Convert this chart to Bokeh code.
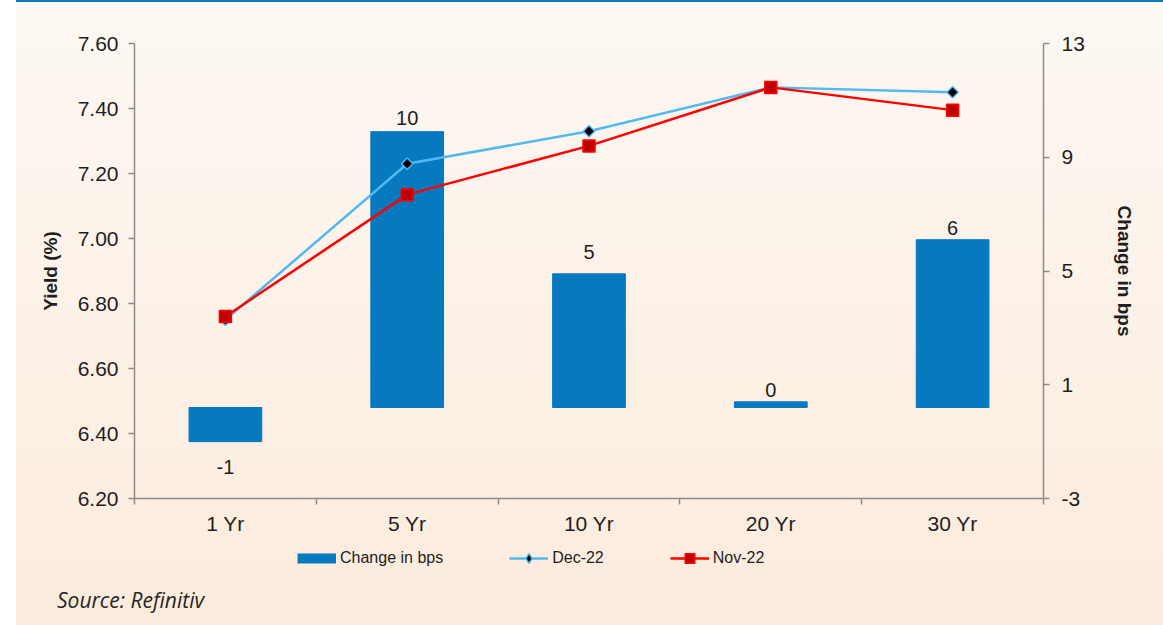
import math
from bokeh.plotting import figure
from bokeh.layouts import column
from bokeh.models import (Range1d, LinearAxis, FixedTicker, PrintfTickFormatter,
                          CustomJSTickFormatter, Legend, LegendItem, Div, ColumnDataSource)
from bokeh.embed import file_html
from bokeh.resources import INLINE
from bokeh.core.properties import value

# ---------------- data ----------------
tenors = ["1 Yr", "5 Yr", "10 Yr", "20 Yr", "30 Yr"]
change_bps = [-1.2, 9.7, 4.7, 0.2, 5.9]
dec_22 = [6.75, 7.23, 7.33, 7.465, 7.45]
nov_22 = [6.76, 7.135, 7.285, 7.465, 7.395]
yield_ticks = [6.20, 6.40, 6.60, 6.80, 7.00, 7.20, 7.40, 7.60]
bps_ticks = [-3.2, 0.8, 4.8, 8.8, 12.8]
series_names = ["Change in bps", "Dec-22", "Nov-22"]
source_note = "Source: Refinitiv"

# ---------------- styles ----------------
FONT = "Liberation Sans"
BAR = "#0679BF"
DEC = "#52B8F2"
NOV = "#FF0000"
NOV_FILL = "#C00000"
AXIS = "#8C8C8C"
TXT = "#1E1E1E"
label_offsets_px = [25, -14, -22, -12, -12]

xs = [i + 0.5 for i in range(len(tenors))]
src = ColumnDataSource(dict(
    x=xs, bps=change_bps, dec=dec_22, nov=nov_22,
    lbl=["%.0f" % v for v in change_bps], off=label_offsets_px))

p = figure(width=1155, height=545, x_range=Range1d(0, len(tenors)),
           y_range=Range1d(yield_ticks[0], yield_ticks[-1]),
           output_backend="svg", toolbar_location=None,
           min_border_left=134, min_border_right=112,
           min_border_top=43, min_border_bottom=47)
p.extra_y_ranges = {"bps": Range1d(bps_ticks[0], bps_ticks[-1])}
p.border_fill_color = None
p.background_fill_color = None
p.outline_line_color = None
p.grid.visible = False

# bars
bars = p.vbar(x="x", top="bps", bottom=0, width=0.4, source=src, y_range_name="bps",
              fill_color=BAR, line_color=BAR)
# Dec-22
dec_line = p.line(x="x", y="dec", source=src, line_color=DEC, line_width=2.5)
dec_pts = p.scatter(x="x", y="dec", source=src, marker="square", angle=math.pi / 4, size=8,
                    fill_color="#000000", line_color=DEC, line_width=1.5)
# Nov-22
nov_line = p.line(x="x", y="nov", source=src, line_color=NOV, line_width=2.5)
nov_pts = p.scatter(x="x", y="nov", source=src, marker="square", size=12,
                    fill_color=NOV_FILL, line_color=NOV, line_width=1.5)

# bar value labels
p.text(x="x", y="bps", text="lbl", source=src, y_range_name="bps", y_offset="off",
       text_align="center", text_baseline="middle", text_font=value(FONT),
       text_font_size="20px", text_color=TXT)

# axes
xa = p.xaxis[0]
xa.ticker = FixedTicker(ticks=xs, minor_ticks=list(range(len(tenors) + 1)))
xa.formatter = CustomJSTickFormatter(args=dict(labels=tenors),
                                     code="return labels[Math.floor(tick)] || '';")
xa.major_tick_line_color = None
xa.major_tick_out = 6
xa.minor_tick_in = 0
xa.minor_tick_out = 6
xa.minor_tick_line_color = AXIS
xa.minor_tick_line_width = 1.5
xa.major_label_standoff = 7

ya = p.yaxis[0]
ya.ticker = FixedTicker(ticks=yield_ticks)
ya.formatter = PrintfTickFormatter(format="%.2f")
ya.axis_label = "Yield (%)"
ya.major_label_standoff = 10
ya.axis_label_standoff = 14

ra = LinearAxis(y_range_name="bps", ticker=FixedTicker(ticks=bps_ticks),
                formatter=PrintfTickFormatter(format="%.0f"), axis_label="Change in bps")
ra.major_label_standoff = 12
ra.axis_label_standoff = 26
p.add_layout(ra, "right")

for ax in (xa, ya, ra):
    ax.axis_line_color = AXIS
    ax.axis_line_width = 1.5
    ax.major_label_text_font = FONT
    ax.major_label_text_font_size = "21px"
    ax.major_label_text_color = TXT
    ax.axis_label_text_font = FONT
    ax.axis_label_text_font_size = "19px"
    ax.axis_label_text_font_style = "bold"
    ax.axis_label_text_color = TXT
for ax in (ya, ra):
    ax.major_tick_line_color = AXIS
    ax.major_tick_line_width = 1.5
    ax.major_tick_in = 0
    ax.major_tick_out = 6
    ax.minor_tick_line_color = None

# ---------------- legend strip (frame aligned with the chart above) ----------------
q = figure(width=1155, height=33, x_range=Range1d(0, 1), y_range=Range1d(0, 1),
           output_backend="svg", toolbar_location=None,
           x_axis_location=None, y_axis_location=None,
           min_border_left=134, min_border_right=112, min_border_top=0, min_border_bottom=0)
q.border_fill_color = None
q.background_fill_color = None
q.outline_line_color = None
q.grid.visible = False

nan = float("nan")
lg_bar = q.line(x=[nan], y=[nan], line_color=BAR, line_width=10)
lg_dec_l = q.line(x=[nan], y=[nan], line_color=DEC, line_width=2.5)
lg_dec_m = q.scatter(x=[nan], y=[nan], marker="diamond",
                     fill_color="#000000", line_color=DEC, line_width=1.5)
lg_nov_l = q.line(x=[nan], y=[nan], line_color=NOV, line_width=2.5)
lg_nov_m = q.scatter(x=[nan], y=[nan], marker="square",
                     fill_color=NOV_FILL, line_color=NOV, line_width=1.5)

legend = Legend(items=[
    LegendItem(label=series_names[0], renderers=[lg_bar]),
    LegendItem(label=series_names[1], renderers=[lg_dec_l, lg_dec_m]),
    LegendItem(label=series_names[2], renderers=[lg_nov_l, lg_nov_m]),
], location=(163, 8), orientation="horizontal")
legend.glyph_width = 39
legend.glyph_height = 24
legend.label_standoff = 4
legend.spacing = 66
legend.padding = 0
legend.margin = 0
legend.border_line_color = None
legend.background_fill_color = None
legend.background_fill_alpha = 0
legend.label_text_font = FONT
legend.label_text_font_size = "16px"
legend.label_text_color = TXT
q.add_layout(legend, "center")

note = Div(text=source_note, width=1155, height=47, styles={
    "font-family": "'Open Sans'", "font-style": "italic", "font-size": "21px",
    "color": "#262626", "padding-left": "52px", "padding-top": "4px",
    "box-sizing": "border-box", "line-height": "26px"})

page = column(p, q, note, spacing=0, styles={
    "background": "linear-gradient(to right, #FFFFFF 16px, rgba(255,255,255,0) 16px), "
                  "linear-gradient(to bottom, #0677BD 0px, #0677BD 2px, #FDF8F3 2px, #FCEBDC 100%)"})

open("out.html", "w").write(file_html(page, INLINE))
